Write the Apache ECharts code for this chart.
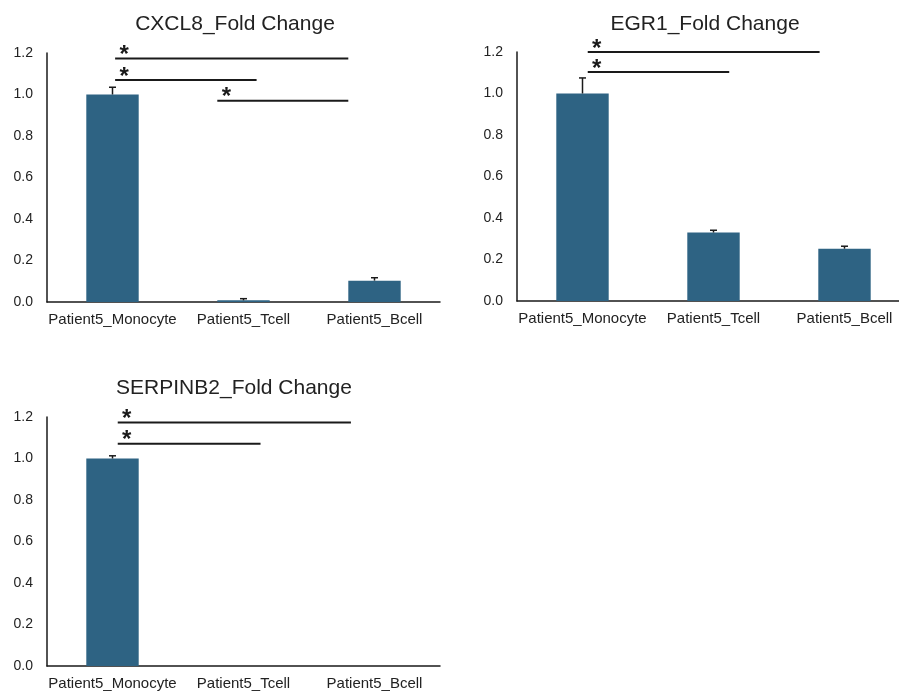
<!DOCTYPE html>
<html>
<head>
<meta charset="utf-8">
<script src="https://cdn.jsdelivr.net/npm/echarts@6/dist/echarts.min.js"></script>
<style>
  html, body { margin: 0; padding: 0; background: #fff; }
  #chart { width: 899px; height: 691px; }
</style>
</head>
<body>
<div id="chart"></div>
<script>
// Cell types shared by every panel
const categories = ['Patient5_Monocyte', 'Patient5_Tcell', 'Patient5_Bcell'];

// Fold change (mean) and upper error per gene
const cxcl8Values = [1.0, 0.008, 0.103];
const cxcl8Errors = [0.035, 0.008, 0.014];
const egr1Values = [1.0, 0.330, 0.252];
const egr1Errors = [0.075, 0.011, 0.012];
const serpinb2Values = [1.0, 0, 0];
const serpinb2Errors = [0.013, 0, 0];

// Significance brackets: start / end as category positions, height in fold change
const cxcl8Brackets = [
  { from: 0.02, to: 1.80, level: 1.173 },
  { from: 0.02, to: 1.10, level: 1.070 },
  { from: 0.80, to: 1.80, level: 0.970 }
];
const egr1Brackets = [
  { from: 0.04, to: 1.81, level: 1.200 },
  { from: 0.04, to: 1.12, level: 1.104 }
];
const serpinb2Brackets = [
  { from: 0.04, to: 1.82, level: 1.174 },
  { from: 0.04, to: 1.13, level: 1.071 }
];

// Y axis ticks
const yMin = 0, yMax = 1.2, yStep = 0.2;

const panels = [
  { title: 'CXCL8_Fold Change', values: cxcl8Values, errors: cxcl8Errors, brackets: cxcl8Brackets,
    grid: { left: 47, top: 53, width: 393, height: 249 }, titleX: 230, titleY: 9 },
  { title: 'EGR1_Fold Change', values: egr1Values, errors: egr1Errors, brackets: egr1Brackets,
    grid: { left: 517, top: 52, width: 393, height: 249 }, titleX: 700, titleY: 9 },
  { title: 'SERPINB2_Fold Change', values: serpinb2Values, errors: serpinb2Errors, brackets: serpinb2Brackets,
    grid: { left: 47, top: 417, width: 393, height: 249 }, titleX: 229, titleY: 373 }
];

const FONT = '"Liberation Sans", Arial, sans-serif';
const BAR_COLOR = '#2e6383';
const INK = '#1a1a1a';

const option = {
  animation: false,
  backgroundColor: '#fff',
  title: panels.map(p => ({
    text: p.title,
    left: p.titleX,
    top: p.titleY,
    textAlign: 'center',
    textStyle: { fontFamily: FONT, fontSize: 21, fontWeight: 'normal', color: '#222' }
  })),
  // the right panel's plot area runs past the page edge, so keep layout unconstrained
  grid: panels.map(p => Object.assign({ outerBoundsMode: 'none', containLabel: false }, p.grid)),
  xAxis: panels.map((p, i) => ({
    type: 'category',
    gridIndex: i,
    data: categories,
    axisLine: { lineStyle: { color: INK, width: 1.5 } },
    axisTick: { show: false },
    axisLabel: { fontFamily: FONT, fontSize: 15, color: '#222', margin: 10, interval: 0 }
  })),
  yAxis: panels.map((p, i) => ({
    type: 'value',
    gridIndex: i,
    min: yMin,
    max: yMax,
    interval: yStep,
    axisLine: { show: true, lineStyle: { color: INK, width: 1.5 } },
    axisTick: { show: false },
    splitLine: { show: false },
    axisLabel: {
      fontFamily: FONT, fontSize: 14, color: '#222', margin: 14,
      formatter: v => v.toFixed(1)
    }
  })),
  series: []
};

panels.forEach((p, i) => {
  // bars
  option.series.push({
    type: 'bar',
    xAxisIndex: i,
    yAxisIndex: i,
    data: p.values,
    barWidth: '40%',
    itemStyle: { color: BAR_COLOR },
    z: 2
  });
  // upper error bars
  option.series.push({
    type: 'custom',
    xAxisIndex: i,
    yAxisIndex: i,
    data: p.values.map((v, k) => [k, v, p.errors[k]]),
    z: 3,
    renderItem: function (params, api) {
      const k = api.value(0);
      const v = api.value(1);
      const e = api.value(2);
      if (!e) return null;
      const base = api.coord([k, v]);
      const top = api.coord([k, v + e]);
      const half = 3.5;
      return {
        type: 'group',
        children: [
          { type: 'line', shape: { x1: base[0], y1: base[1], x2: top[0], y2: top[1] },
            style: { stroke: INK, lineWidth: 1.5 } },
          { type: 'line', shape: { x1: top[0] - half, y1: top[1], x2: top[0] + half, y2: top[1] },
            style: { stroke: INK, lineWidth: 1.5 } }
        ]
      };
    }
  });
  // significance brackets with asterisks
  const brackets = p.brackets;
  option.series.push({
    type: 'custom',
    xAxisIndex: i,
    yAxisIndex: i,
    data: brackets.map(b => [0, b.level]),
    z: 4,
    clip: false,
    renderItem: function (params, api) {
      const b = brackets[params.dataIndex];
      const origin = api.coord([0, b.level]);
      const band = api.coord([1, b.level])[0] - origin[0];
      const x1 = origin[0] + b.from * band;
      const x2 = origin[0] + b.to * band;
      const y = origin[1];
      return {
        type: 'group',
        children: [
          { type: 'line', shape: { x1: x1, y1: y, x2: x2, y2: y },
            style: { stroke: INK, lineWidth: 2 } },
          { type: 'text', x: x1 + 9, y: y - 3,
            style: { text: '*', font: 'bold 24px ' + FONT, fill: INK,
                     textAlign: 'center', textVerticalAlign: 'middle' } }
        ]
      };
    }
  });
});

const chart = echarts.init(document.getElementById('chart'), null, { renderer: 'canvas' });
chart.setOption(option);
</script>
</body>
</html>
